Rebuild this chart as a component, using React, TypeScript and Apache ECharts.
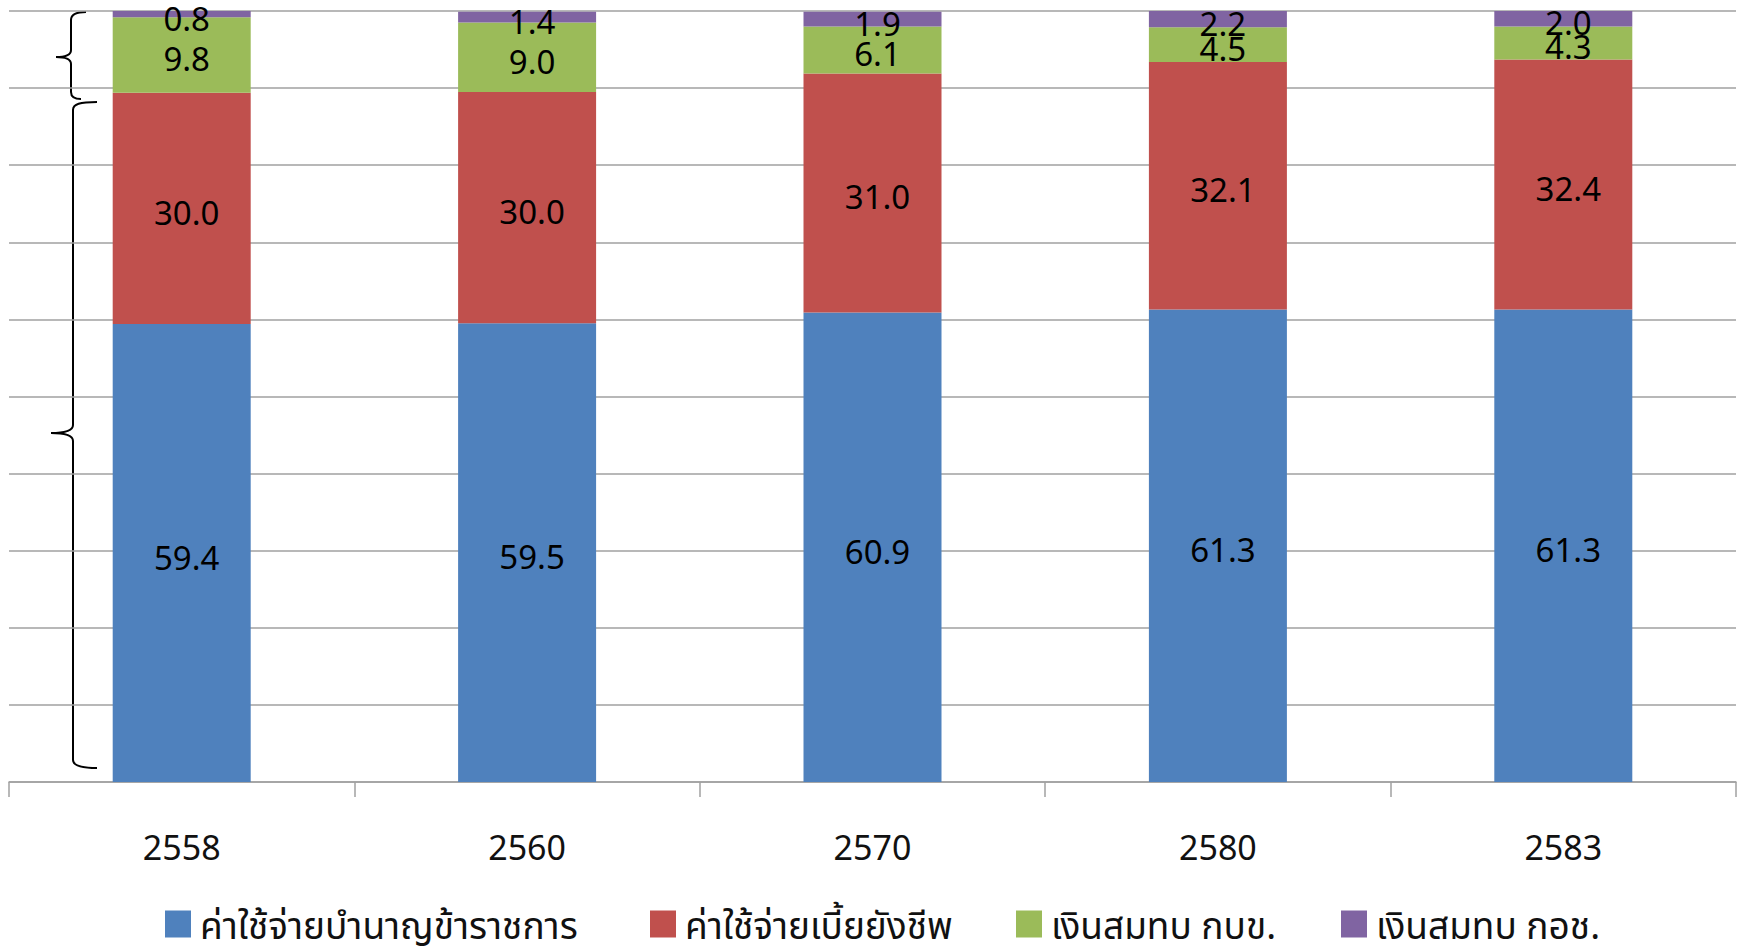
import React, { useEffect, useRef } from "react";
import * as echarts from "echarts";

const categories = ["2558", "2560", "2570", "2580", "2583"];
const seriesNames = [
  "ค่าใช้จ่ายบำนาญข้าราชการ",
  "ค่าใช้จ่ายเบี้ยยังชีพ",
  "เงินสมทบ กบข.",
  "เงินสมทบ กอช.",
];
const pensionValues = [59.4, 59.5, 60.9, 61.3, 61.3];
const allowanceValues = [30.0, 30.0, 31.0, 32.1, 32.4];
const gpfValues = [9.8, 9.0, 6.1, 4.5, 4.3];
const nsfValues = [0.8, 1.4, 1.9, 2.2, 2.0];
const colors = ["#4F81BD", "#C0504D", "#9BBB59", "#8064A2"];

const BRACE_TOP =
  "M 86 12 C 76 12 71 14 71 20 L 71 50 C 71 55 66 57 56 57 C 66 57 71 59 71 64 L 71 92 C 71 97 74 99 81 99";
const BRACE_BOTTOM =
  "M 97 102 C 80 102 73 104 73 110 L 73 425 C 73 431 65 433 51 433 C 65 433 73 435 73 441 L 73 760 C 73 765 80 768 97 768";

echarts.graphic.registerShape("braceTop", echarts.graphic.extendPath(BRACE_TOP, {}));
echarts.graphic.registerShape("braceBottom", echarts.graphic.extendPath(BRACE_BOTTOM, {}));

const FONT = "'Noto Sans', 'Noto Sans Thai', 'DejaVu Sans', sans-serif";

export default function App() {
  const ref = useRef<HTMLDivElement>(null);
  useEffect(() => {
    if (!ref.current) return;
    const chart = echarts.init(ref.current, null, { renderer: "svg" });
    const dataSets = [pensionValues, allowanceValues, gpfValues, nsfValues];
    const legendLefts = [165, 650, 1016, 1341];
    chart.setOption({
      animation: false,
      backgroundColor: "#ffffff",
      color: colors,
      grid: { left: 9, right: 9, top: 11, bottom: 169, containLabel: false },
      legend: seriesNames.map((n, i) => ({
        data: [n],
        left: legendLefts[i],
        top: 903,
        padding: 0,
        icon: "rect",
        itemWidth: 26,
        itemHeight: 27,
        itemGap: 10,
        textStyle: { fontSize: 37, lineHeight: 42, color: "#111", fontFamily: FONT, padding: [0, 0, 0, 4] },
      })),
      xAxis: {
        type: "category",
        data: categories,
        axisLine: { show: true, lineStyle: { color: "#A0A0A0", width: 1.5 } },
        axisTick: { show: true, length: 15, alignWithLabel: false, lineStyle: { color: "#A0A0A0", width: 1.5 } },
        axisLabel: { margin: 48, fontSize: 34, color: "#111", fontFamily: FONT },
      },
      yAxis: {
        type: "value",
        min: 0,
        max: 100,
        interval: 10,
        axisLine: { show: false },
        axisTick: { show: false },
        axisLabel: { show: false },
        splitLine: { show: true, lineStyle: { color: "#A0A0A0", width: 1.5 } },
      },
      series: dataSets.map((d, i) => ({
        name: seriesNames[i],
        type: "bar",
        stack: "total",
        data: d,
        barWidth: 138,
        itemStyle: { color: colors[i] },
        label: {
          show: true,
          position: "inside",
          offset: [5, 4],
          formatter: (p: any) => Number(p.value).toFixed(1),
          fontSize: 33,
          color: "#000",
          fontFamily: FONT,
        },
      })),
      graphic: [
        { type: "braceTop", x: 0, y: 0, silent: true, style: { stroke: "#000", lineWidth: 2, fill: null } },
        { type: "braceBottom", x: 0, y: 0, silent: true, style: { stroke: "#000", lineWidth: 2, fill: null } },
      ],
    });
    return () => chart.dispose();
  }, []);
  return (
    <div
      ref={ref}
      style={{ position: "fixed", left: 0, top: 0, width: 1745, height: 951 }}
    />
  );
}
